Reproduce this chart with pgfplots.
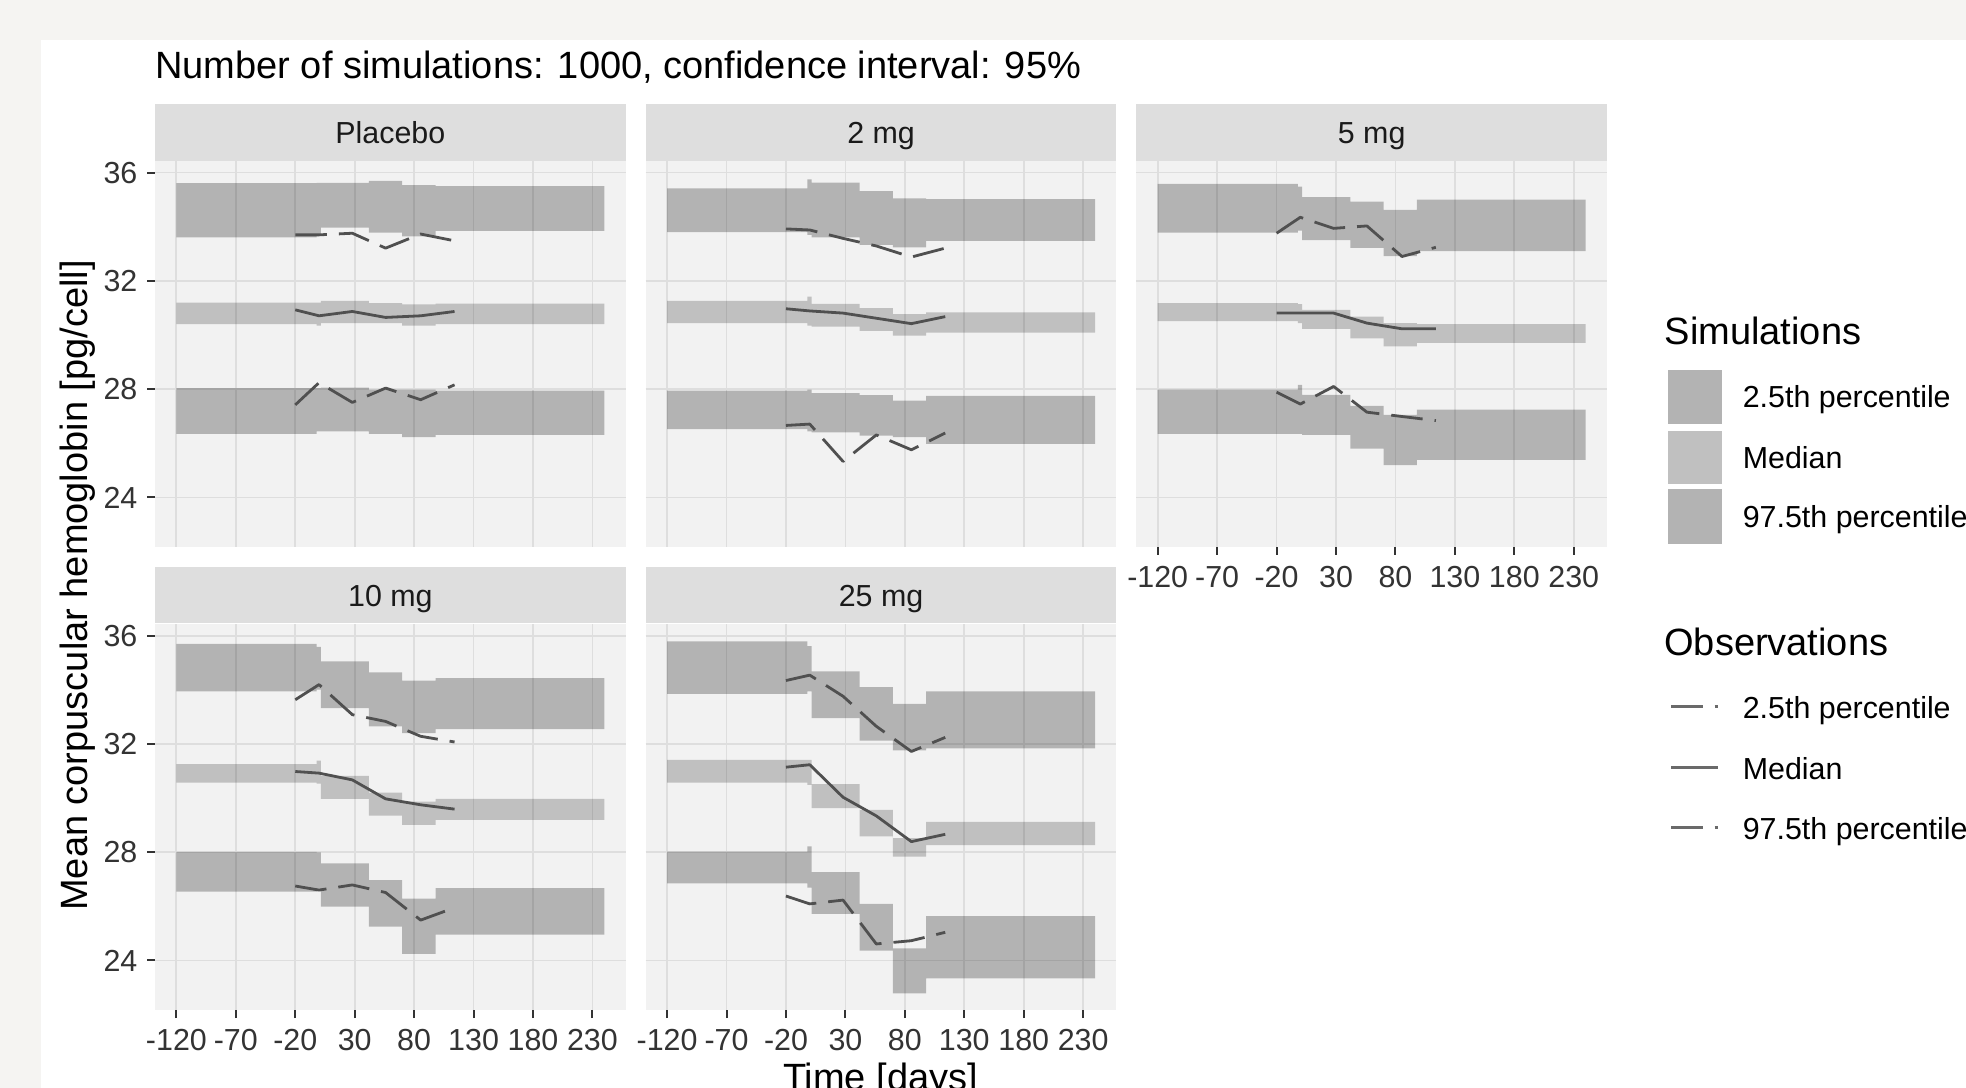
\documentclass[border=0pt]{standalone}
\usepackage{fontspec}
\setmainfont{Liberation Sans}
\usepackage{pgfplots}
\pgfplotsset{compat=1.18}
\usepgfplotslibrary{fillbetween}
\usepackage{pgfplotstable}

\definecolor{outerbg}{RGB}{245,244,242}
\definecolor{panelbg}{RGB}{242,242,242}
\definecolor{gridc}{RGB}{222,222,222}
\definecolor{stripc}{RGB}{222,222,222}
\definecolor{obsline}{RGB}{80,80,80}
\definecolor{tickc}{RGB}{51,51,51}
\definecolor{keyouter}{RGB}{179,179,179}
\definecolor{keymed}{RGB}{192,192,192}

% simulation bands: bin start x, upper band (hi/lo), median band, lower band
\pgfplotstableread{
x uhi ulo mhi mlo lhi llo
-120 35.61 33.61 31.20 30.40 28.04 26.35
-2   35.62 33.66 31.20 30.35 28.04 26.44
1.5  35.62 33.97 31.26 30.44 28.06 26.44
42   35.69 33.78 31.18 30.44 27.98 26.35
70   35.54 33.64 31.13 30.35 27.98 26.23
98   35.50 33.85 31.16 30.40 27.95 26.31
240  35.50 33.85 31.16 30.40 27.95 26.31
}\simPlacebo
\pgfplotstableread{
x uhi ulo mhi mlo lhi llo
-120 35.42 33.80 31.26 30.44 27.95 26.52
-2   35.75 33.70 31.42 30.35 27.98 26.44
1.5  35.63 33.61 31.15 30.31 27.85 26.40
42   35.32 33.33 30.99 30.15 27.78 26.28
70   35.05 33.24 30.77 29.98 27.58 26.23
98   35.02 33.48 30.84 30.09 27.75 25.98
240  35.02 33.48 30.84 30.09 27.75 25.98
}\simTwo
\pgfplotstableread{
x uhi ulo mhi mlo lhi llo
-120 35.58 33.78 31.18 30.51 27.98 26.35
-2   35.48 33.86 31.14 30.44 28.16 26.35
1.5  35.09 33.51 30.93 30.23 27.79 26.31
42   34.93 33.22 30.68 29.88 27.38 25.80
70   34.62 32.91 30.44 29.58 27.05 25.19
98   35.00 33.10 30.40 29.71 27.24 25.39
240  35.00 33.10 30.40 29.71 27.24 25.39
}\simFive
\pgfplotstableread{
x uhi ulo mhi mlo lhi llo
-120 35.69 33.94 31.25 30.57 28.01 26.54
-2   35.58 34.00 31.38 30.53 27.99 26.56
1.5  35.05 33.32 30.82 29.97 27.59 25.99
42   34.64 32.65 30.20 29.35 26.97 25.25
70   34.34 32.40 29.87 29.01 26.28 24.24
98   34.43 32.55 29.97 29.19 26.67 24.95
240  34.43 32.55 29.97 29.19 26.67 24.95
}\simTen
\pgfplotstableread{
x uhi ulo mhi mlo lhi llo
-120 35.79 33.85 31.41 30.57 28.02 26.85
-2   35.61 33.94 31.41 30.49 28.21 26.69
1.5  34.68 32.95 30.51 29.63 27.26 25.72
42   34.10 32.12 29.56 28.58 26.09 24.36
70   33.48 31.76 28.52 27.84 24.45 22.78
98   33.94 31.83 29.12 28.26 25.64 23.34
240  33.94 31.83 29.12 28.26 25.64 23.34
}\simTwentyFive

% observations
\pgfplotstableread{
t p975 med p025
-20  33.70 30.93 27.42
0    33.70 30.71 28.24
28   33.76 30.87 27.51
56   33.21 30.65 28.04
85.5 33.73 30.71 27.61
114  33.48 30.87 28.16
}\obsPlacebo
\pgfplotstableread{
t p975 med p025
-20  33.92 30.97 26.66
0    33.88 30.89 26.71
28   33.57 30.81 25.33
56   33.29 30.62 26.31
85.5 32.88 30.42 25.76
114  33.21 30.68 26.38
}\obsTwo
\pgfplotstableread{
t p975 med p025
-20  33.76 30.81 27.89
0    34.35 30.81 27.45
28   33.94 30.81 28.10
56   34.03 30.44 27.15
85.5 32.90 30.23 26.99
114  33.24 30.23 26.84
}\obsFive
\pgfplotstableread{
t p975 med p025
-20  33.63 30.98 26.75
0    34.19 30.92 26.60
28   33.08 30.67 26.79
56   32.83 29.97 26.51
85.5 32.28 29.75 25.49
114  32.07 29.59 25.95
}\obsTen
\pgfplotstableread{
t p975 med p025
-20  34.34 31.14 26.38
0    34.54 31.23 26.09
28   33.76 30.03 26.23
56   32.65 29.34 24.61
85.5 31.72 28.39 24.73
114  32.24 28.66 25.04
}\obsTwentyFive

\newcommand\simbands[1]{%
  \addplot[draw=none, const plot, name path=uh] table[x=x, y=uhi] {#1};
  \addplot[draw=none, const plot, name path=ul] table[x=x, y=ulo] {#1};
  \addplot[draw=none, const plot, name path=mh] table[x=x, y=mhi] {#1};
  \addplot[draw=none, const plot, name path=ml] table[x=x, y=mlo] {#1};
  \addplot[draw=none, const plot, name path=lh] table[x=x, y=lhi] {#1};
  \addplot[draw=none, const plot, name path=ll] table[x=x, y=llo] {#1};
  \addplot[fill=black, fill opacity=0.26, draw=none] fill between[of=uh and ul];
  \addplot[fill=black, fill opacity=0.205, draw=none] fill between[of=mh and ml];
  \addplot[fill=black, fill opacity=0.26, draw=none] fill between[of=lh and ll];
}
\newcommand\obslines[1]{%
  \addplot[obsline, line width=0.7pt, line join=round, dash pattern=on 7.9pt off 3pt] table[x=t, y=p975] {#1};
  \addplot[obsline, line width=0.7pt, line join=round] table[x=t, y=med] {#1};
  \addplot[obsline, line width=0.7pt, line join=round, dash pattern=on 7.9pt off 3pt] table[x=t, y=p025] {#1};
}

\pgfplotsset{
  panel/.style={
    scale only axis, width=117.675pt, height=96.575pt, anchor=south west,
    xmin=-138, xmax=258, ymin=22.17, ymax=36.44,
    axis background/.style={fill=panelbg},
    axis line style={draw=none},
    grid=major, major grid style={draw=gridc, line width=0.45pt},
    xtick={-120,-70,-20,30,80,130,180,230}, ytick={24,28,32,36},
    tick align=outside, major tick length=2pt, tick pos=left,
    tick style={draw=tickc, line width=0.5pt},
    xticklabels={}, yticklabels={},
    ticklabel style={font=\fontsize{7.6}{9}\selectfont, text=tickc},
    xticklabel style={anchor=north, inner sep=0pt, yshift=-2.6pt},
    yticklabel style={anchor=east, inner sep=0pt, xshift=-2.2pt},
  },
  showx/.style={xticklabels={-120,-70,-20,30,80,130,180,230}},
  showy/.style={yticklabels={24,28,32,36}},
  nox/.style={xtick style={draw=none}},
  noy/.style={ytick style={draw=none}},
}

\newcommand\titlefont{\fontsize{9.5}{11}\selectfont}
\newcommand\smallfont{\fontsize{7.6}{9}\selectfont}

\begin{document}
\begin{tikzpicture}[x=0.25pt, y=-0.25pt]
\pgfplotsset{set layers}
\begin{pgfonlayer}{axis background}
\fill[outerbg] (0,0) rectangle (1966,1088);
\fill[white] (41,40) rectangle (1966,1088);
% strips
\foreach \L/\T in {155/104.3, 645.7/104.3, 1136.3/104.3, 155/567, 645.7/567}{
  \fill[stripc] (\L,\T) rectangle ({\L+470.7},{\T+56.4});
}
\end{pgfonlayer}

\node[anchor=base west, inner sep=0pt, font=\titlefont] at (154.5,79) {Number of simulations: 1000, confidence interval: 95\%};

\foreach \L/\T/\lab in {155/104.3/Placebo, 645.7/104.3/2 mg, 1136.3/104.3/5 mg, 155/567/10 mg, 645.7/567/25 mg}{
  \node[anchor=base, inner sep=0pt, font=\smallfont, text={rgb,255:red,26;green,26;blue,26}] at ({\L+235.35},{\T+39.1}) {\lab};
}

\begin{axis}[panel, at={(38.75pt,-136.75pt)}, showy, nox]
  \simbands{\simPlacebo}
  \obslines{\obsPlacebo}
\end{axis}
\begin{axis}[panel, at={(161.425pt,-136.75pt)}, nox, noy]
  \simbands{\simTwo}
  \obslines{\obsTwo}
\end{axis}
\begin{axis}[panel, at={(284.075pt,-136.75pt)}, showx, noy]
  \simbands{\simFive}
  \obslines{\obsFive}
\end{axis}
\begin{axis}[panel, at={(38.75pt,-252.5pt)}, showx, showy]
  \simbands{\simTen}
  \obslines{\obsTen}
\end{axis}
\begin{axis}[panel, at={(161.425pt,-252.5pt)}, showx, noy]
  \simbands{\simTwentyFive}
  \obslines{\obsTwentyFive}
\end{axis}

% axis titles
\node[rotate=90, anchor=base, inner sep=0pt, font=\titlefont] at (87.5,585.4) {Mean corpuscular hemoglobin [pg/cell]};
\node[anchor=base, inner sep=0pt, font=\titlefont] at (880.5,1090) {Time [days]};

% legend: simulations
\node[anchor=base west, inner sep=0pt, font=\titlefont] at (1664,345) {Simulations};
\fill[keyouter] (1667.5,370) rectangle (1721.5,424);
\fill[keymed] (1667.5,431) rectangle (1721.5,484.5);
\fill[keyouter] (1667.5,489.5) rectangle (1721.5,544);
\node[anchor=base west, inner sep=0pt, font=\smallfont] at (1742,408) {2.5th percentile};
\node[anchor=base west, inner sep=0pt, font=\smallfont] at (1742,468.5) {Median};
\node[anchor=base west, inner sep=0pt, font=\smallfont] at (1742,527.5) {97.5th percentile};

% legend: observations
\node[anchor=base west, inner sep=0pt, font=\titlefont] at (1663.5,655.6) {Observations};
\draw[obsline!85!white, line width=0.75pt, dash pattern=on 7.9pt off 3pt] (1671,706.7) -- (1718.3,706.7);
\draw[obsline!85!white, line width=0.75pt] (1671,767.3) -- (1718.3,767.3);
\draw[obsline!85!white, line width=0.75pt, dash pattern=on 7.9pt off 3pt] (1671,827.3) -- (1718.3,827.3);
\node[anchor=base west, inner sep=0pt, font=\smallfont] at (1742,719) {2.5th percentile};
\node[anchor=base west, inner sep=0pt, font=\smallfont] at (1742,779) {Median};
\node[anchor=base west, inner sep=0pt, font=\smallfont] at (1742,839) {97.5th percentile};

\pgfresetboundingbox
\path[use as bounding box] (0,0) rectangle (1966,1088);
\end{tikzpicture}
\end{document}
